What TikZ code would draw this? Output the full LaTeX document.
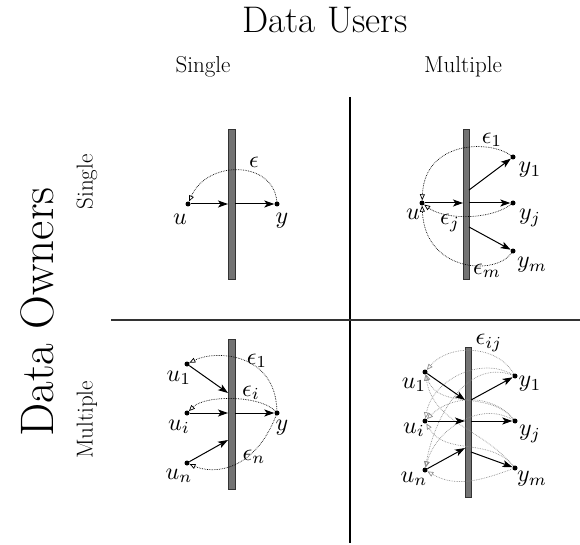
\RequirePackage{fix-cm}
\documentclass[tikz,border=0pt]{standalone}
\usetikzlibrary{arrows.meta,calc}
\newcommand{\mlab}[1]{\scalebox{2.4}{$#1$}}
\begin{document}
\begin{tikzpicture}[x=1pt,y=-1pt,
  dot/.style={circle,fill=black,inner sep=0pt,minimum size=5pt},
  bar/.style={draw=black!80,fill=black!55,line width=0.8pt},
  arr/.style={line width=1pt,-{Stealth[length=10pt,width=7pt,inset=2.5pt]}},
  dotarr/.style={densely dotted,line width=0.7pt,-{Triangle[open,length=6pt,width=5pt]}},
  gdotarr/.style={densely dotted,line width=0.7pt,black!45,-{Triangle[open,length=6pt,width=5pt]}},
  lab/.style={inner sep=0pt,font=\fontsize{10}{12}\selectfont},
  hdr/.style={inner sep=0pt,font=\fontsize{23}{27}\selectfont},
]
\useasboundingbox (0,0) rectangle (580,545);
% titles
\node[inner sep=0pt,font=\fontsize{37}{42}\selectfont] (du) at (325,20) {Data Users};
\node[hdr] (hs) at (203,67) {Single};
\node[hdr] (hm) at (463,67) {Multiple};
\node[inner sep=0pt,font=\fontsize{47}{52}\selectfont,rotate=90] (do) at (37,312) {Data Owners};
\node[hdr,rotate=90] (vs) at (87,182) {Single};
\node[hdr,rotate=90] (vm) at (87,420) {Multiple};
% grid lines
\coordinate (vt) at (350,97); \coordinate (vb) at (350,543);
\coordinate (hl) at (111,320); \coordinate (hr) at (580,320);
\draw[line width=1.3pt] (vt) -- (vb);
\draw[line width=1.8pt,black!80] (hl) -- (hr);

% ---------- panel 1 ----------
\draw[bar] (228,129) rectangle (235,279);
\node[dot] (u) at (188,204) {};
\node[dot] (y) at (277,204) {};
\coordinate (p1l) at (228,204); \coordinate (p1r) at (235,204);
\draw[arr] (u) -- (p1l);
\draw[arr] (p1r) -- (y);
\draw[dotarr] (y) .. controls (273,160) and (207,160) .. (u);
\node[lab] (e) at (254,162) {\mlab{\epsilon}};
\node[lab] (ul) at (180,219) {\mlab{u}};
\node[lab] (yl) at (282,221) {\mlab{y}};

% ---------- panel 2 ----------
\draw[bar] (463,129) rectangle (469,279);
\node[dot] (u2) at (422,203) {};
\node[dot] (y21) at (513,157) {};
\node[dot] (y2j) at (513,203) {};
\node[dot] (y2m) at (513,251) {};
\coordinate (p2l) at (463,203);
\coordinate (p2r1) at (469,190); \coordinate (p2rj) at (469,203); \coordinate (p2rm) at (469,227);
\draw[arr] (u2) -- (p2l);
\draw[arr] (p2r1) -- (y21);
\draw[arr] (p2rj) -- (y2j);
\draw[arr] (p2rm) -- (y2m);
\draw[dotarr] (y21) .. controls (490,140) and (425,140) .. (u2);
\draw[dotarr] (y2j) .. controls (490,220) and (445,220) .. (u2);
\draw[dotarr] (y2m) .. controls (495,276) and (425,272) .. (u2);
\node[lab] (e21) at (492,140) {\mlab{\epsilon_1}};
\node[lab] (e2j) at (450,223) {\mlab{\epsilon_j}};
\node[lab] (e2m) at (487,271) {\mlab{\epsilon_m}};
\node[lab] (u2l) at (413,214) {\mlab{u}};
\node[lab] (y21l) at (530,170) {\mlab{y_1}};
\node[lab] (y2jl) at (530,218) {\mlab{y_j}};
\node[lab] (y2ml) at (532,265) {\mlab{y_m}};

% ---------- panel 3 ----------
\draw[bar] (228,339) rectangle (235,489);
\node[dot] (u31) at (187,364) {};
\node[dot] (u3i) at (187,413) {};
\node[dot] (u3n) at (187,463) {};
\node[dot] (y3) at (277,413) {};
\coordinate (p3l1) at (228,393); \coordinate (p3li) at (228,413); \coordinate (p3ln) at (228,440);
\coordinate (p3r) at (235,413);
\draw[arr] (u31) -- (p3l1);
\draw[arr] (u3i) -- (p3li);
\draw[arr] (u3n) -- (p3ln);
\draw[arr] (p3r) -- (y3);
\draw[dotarr] (y3) .. controls (275,352) and (215,350) .. (u31);
\draw[dotarr] (y3) .. controls (260,395) and (205,395) .. (u3i);
\draw[dotarr] (y3) .. controls (255,470) and (215,475) .. (u3n);
\node[lab] (e31) at (257,361) {\mlab{\epsilon_1}};
\node[lab] (e3i) at (251,393) {\mlab{\epsilon_i}};
\node[lab] (e3n) at (254,457) {\mlab{\epsilon_n}};
\node[lab] (u31l) at (179,378) {\mlab{u_1}};
\node[lab] (u3il) at (179,427) {\mlab{u_i}};
\node[lab] (u3nl) at (179,476) {\mlab{u_n}};
\node[lab] (y3l) at (282,428) {\mlab{y}};

% ---------- panel 4 ----------
\draw[bar] (465,347) rectangle (471,497);
\node[dot] (u41) at (425,372) {};
\node[dot] (u4i) at (425,421) {};
\node[dot] (u4n) at (425,470) {};
\node[dot] (y41) at (515,376) {};
\node[dot] (y4j) at (515,421) {};
\node[dot] (y4m) at (515,468) {};
% dotted web
\draw[gdotarr] (y41) to[out=120,in=50] (u41);
\draw[gdotarr] (y4j) to[out=130,in=-70] (u41);
\draw[gdotarr] (y4m) to[out=130,in=-80] (u41);
\draw[gdotarr] (y41) to[out=150,in=80] (u4i);
\draw[gdotarr] (y4j) to[out=130,in=45] (u4i);
\draw[gdotarr] (y4m) to[out=130,in=-60] (u4i);
\draw[gdotarr] (y41) to[out=160,in=80] (u4n);
\draw[gdotarr] (y4j) to[out=150,in=75] (u4n);
\draw[gdotarr] (y4m) to[out=200,in=-30] (u4n);
\coordinate (p4l1) at (465,400); \coordinate (p4li) at (465,421); \coordinate (p4ln) at (465,448);
\coordinate (p4r1) at (471,400); \coordinate (p4rj) at (471,421); \coordinate (p4rm) at (471,452);
\draw[arr] (u41) -- (p4l1);
\draw[arr] (u4i) -- (p4li);
\draw[arr] (u4n) -- (p4ln);
\draw[arr] (p4r1) -- (y41);
\draw[arr] (p4rj) -- (y4j);
\draw[arr] (p4rm) -- (y4m);
\node[lab] (e4) at (489,343) {\mlab{\epsilon_{ij}}};
\node[lab] (u41l) at (414,385) {\mlab{u_1}};
\node[lab] (u4il) at (414,430) {\mlab{u_i}};
\node[lab] (u4nl) at (414,479) {\mlab{u_n}};
\node[lab] (y41l) at (530,384) {\mlab{y_1}};
\node[lab] (y4jl) at (530,434) {\mlab{y_j}};
\node[lab] (y4ml) at (532,479) {\mlab{y_m}};
\end{tikzpicture}
\end{document}
